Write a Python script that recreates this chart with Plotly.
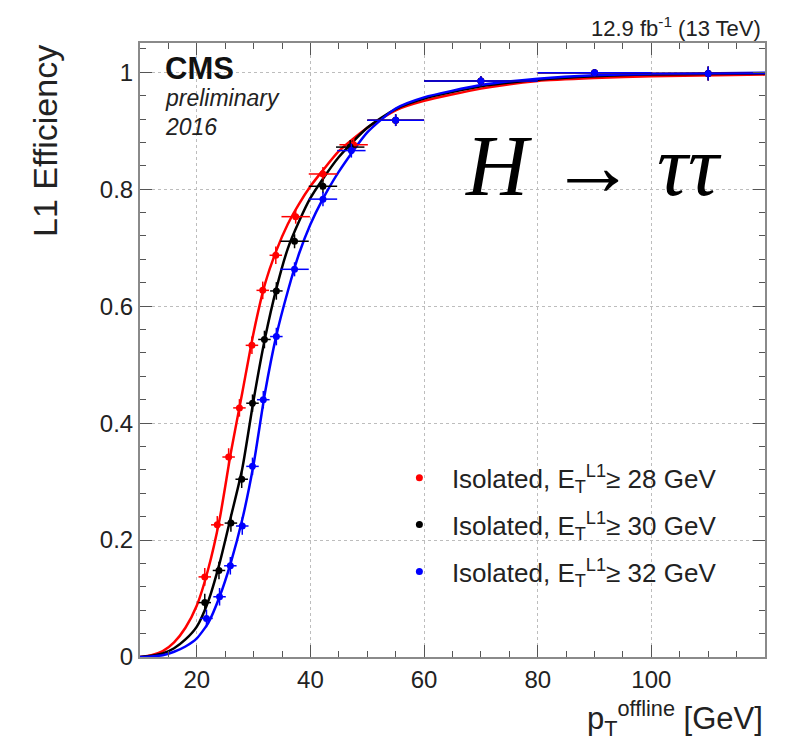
import plotly.graph_objects as go

# ---------------- data ----------------
x_ticks = [20, 40, 60, 80, 100]
y_ticks = [0, 0.2, 0.4, 0.6, 0.8, 1]
y_tick_labels = ["0", "0.2", "0.4", "0.6", "0.8", "1"]

pt_red = [21.4, 23.6, 25.6, 27.5, 29.7, 31.6, 33.9, 37.4, 42.2, 47.6, 55, 70, 90, 110]
eff_red = [0.137, 0.226, 0.342, 0.426, 0.533, 0.627, 0.687, 0.753, 0.826, 0.876, 0.918, 0.985, 0.999, 0.998]

pt_black = [21.4, 23.9, 26.0, 27.9, 29.8, 31.9, 34.0, 37.2, 42.2, 47.0, 55, 70, 90, 110]
eff_black = [0.093, 0.148, 0.229, 0.304, 0.434, 0.543, 0.626, 0.711, 0.805, 0.872, 0.918, 0.985, 0.999, 0.998]

pt_blue = [21.7, 24.0, 25.9, 28.0, 29.8, 31.7, 34.0, 37.2, 42.2, 47.2, 55, 70, 90, 110]
eff_blue = [0.066, 0.103, 0.156, 0.224, 0.326, 0.440, 0.548, 0.663, 0.783, 0.866, 0.918, 0.985, 0.999, 0.998]

pt_halfwidth = [1.1, 1.1, 1.1, 1.1, 1.1, 1.1, 1.1, 2.5, 2.5, 2.5, 5, 10, 10, 10]
eff_err = [0.015, 0.015, 0.015, 0.015, 0.015, 0.015, 0.015, 0.012, 0.012, 0.012, 0.01, 0.008, 0.006, 0.012]

# fitted curves
fit_pt = [10, 12, 14, 16, 18, 20, 22, 24, 26, 28, 30, 32, 34, 36, 38, 40, 42, 45, 50, 55, 60, 70, 80, 90, 100, 120]
fit_red = [0.0, 0.003, 0.010, 0.025, 0.050, 0.088, 0.150, 0.235, 0.350, 0.452, 0.555, 0.638, 0.695, 0.740, 0.775,
           0.805, 0.830, 0.865, 0.905, 0.935, 0.951, 0.972, 0.985, 0.990, 0.993, 0.996]
fit_black = [0.0, 0.002, 0.006, 0.015, 0.030, 0.052, 0.095, 0.160, 0.240, 0.322, 0.440, 0.545, 0.630, 0.698, 0.745,
             0.785, 0.815, 0.855, 0.905, 0.937, 0.955, 0.976, 0.987, 0.993, 0.996, 0.998]
fit_blue = [0.0, 0.001, 0.003, 0.009, 0.018, 0.032, 0.058, 0.103, 0.162, 0.235, 0.330, 0.452, 0.550, 0.625, 0.690,
            0.740, 0.780, 0.830, 0.897, 0.938, 0.957, 0.978, 0.989, 0.995, 0.997, 0.999]

series = [
    ("Isolated, E<sub>T</sub><sup>L1</sup>≥ 28 GeV", "#ff0000", pt_red, eff_red, fit_red),
    ("Isolated, E<sub>T</sub><sup>L1</sup>≥ 30 GeV", "#000000", pt_black, eff_black, fit_black),
    ("Isolated, E<sub>T</sub><sup>L1</sup>≥ 32 GeV", "#0000ff", pt_blue, eff_blue, fit_blue),
]

fig = go.Figure()

for i, (name, col, px, py, fy) in enumerate(series):
    fig.add_trace(go.Scatter(
        x=fit_pt, y=fy, mode="lines", line=dict(color=col, width=2.5, shape="spline", smoothing=0.6),
        showlegend=False, hoverinfo="skip"))

for i, (name, col, px, py, fy) in enumerate(series):
    fig.add_trace(go.Scatter(
        x=px, y=py, mode="markers", name=name, legendgroup=f"g{i}",
        marker=dict(color=col, size=7, symbol="circle"),
        error_x=dict(type="data", array=pt_halfwidth, color=col, thickness=1.5, width=0),
        error_y=dict(type="data", array=eff_err, color=col, thickness=1.5, width=0),
    ))

font_main = "Liberation Sans, Arial, sans-serif"

axis_common = dict(
    showline=True, linecolor="#8a8a8a", linewidth=2, mirror="ticks",
    ticks="inside", ticklen=12, tickwidth=1, tickcolor="#555555",
    showgrid=True, gridcolor="#bdbdbd", griddash="dot", gridwidth=1,
    zeroline=False, tickfont=dict(family=font_main, size=24, color="#222222"),
)

fig.update_layout(
    width=783, height=736,
    margin=dict(l=132, r=26, t=35, b=87),
    paper_bgcolor="white", plot_bgcolor="white",
    font=dict(family=font_main, color="#222222"),
    xaxis=dict(range=[10, 120], tickvals=x_ticks,
               minor=dict(dtick=5, ticks="inside", ticklen=6, tickcolor="#555555", showgrid=False),
               **axis_common),
    yaxis=dict(range=[0, 1.05], tickvals=y_ticks, ticktext=y_tick_labels,
               minor=dict(dtick=0.04, ticks="inside", ticklen=6, tickcolor="#555555", showgrid=False),
               **axis_common),
    legend=dict(x=0.395, y=0.33, xanchor="left", yanchor="top",
                bgcolor="rgba(0,0,0,0)", font=dict(family=font_main, size=26, color="#222222"),
                tracegroupgap=10, itemwidth=55),
    showlegend=True,
)

annotations = [
    dict(text="L1 Efficiency", xref="paper", yref="paper", x=-0.152, y=1.0, xanchor="center", yanchor="top",
         textangle=-90, showarrow=False, font=dict(family=font_main, size=34, color="#222222")),
    dict(text="p<sub>T</sub><sup>offline</sup> [GeV]", xref="paper", yref="paper", x=1.0, y=-0.06,
         xanchor="right", yanchor="top", showarrow=False, font=dict(family=font_main, size=31, color="#222222")),
    dict(text="12.9 fb<sup>-1</sup> (13 TeV)", xref="paper", yref="paper", x=0.997, y=1.0,
         xanchor="right", yanchor="bottom", showarrow=False, font=dict(family=font_main, size=22, color="#222222")),
    dict(text="<b>CMS</b>", xref="paper", yref="paper", x=0.036, y=0.99, xanchor="left", yanchor="top",
         showarrow=False, font=dict(family=font_main, size=31, color="#111111")),
    dict(text="<i>preliminary</i>", xref="paper", yref="paper", x=0.036, y=0.935, xanchor="left", yanchor="top",
         showarrow=False, font=dict(family=font_main, size=23, color="#222222")),
    dict(text="<i>2016</i>", xref="paper", yref="paper", x=0.036, y=0.888, xanchor="left", yanchor="top",
         showarrow=False, font=dict(family=font_main, size=23, color="#222222")),
    dict(text="<i>H</i> → <i>ττ</i>", xref="paper", yref="paper", x=0.726, y=0.80, xanchor="center",
         yanchor="middle", showarrow=False, font=dict(family="Liberation Serif, serif", size=86, color="#000000")),
]
fig.update_layout(annotations=annotations)

fig.write_html("out.html")
